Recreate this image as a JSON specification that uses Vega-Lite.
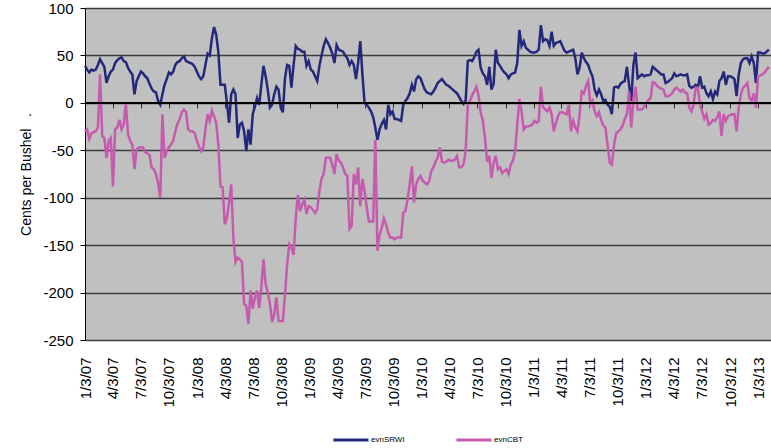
{
"$schema":"https://vega.github.io/schema/vega-lite/v6.json",
"width":686,"height":332,
"autosize":"none",
"padding":{"left":85,"top":8,"right":0,"bottom":108},
"background":"white",
"config":{"font":"Liberation Sans","view":{"fill":"#c0c0c0","stroke":null}},
"data":{"values":[
{"date":"2007-01-03","evnSRWI":39,"evnCBT":-30},{"date":"2007-01-10","evnSRWI":35,"evnCBT":-28},{"date":"2007-01-17","evnSRWI":32,"evnCBT":-38},{"date":"2007-01-24","evnSRWI":35,"evnCBT":-32},{"date":"2007-01-31","evnSRWI":34,"evnCBT":-31},{"date":"2007-02-07","evnSRWI":35,"evnCBT":-30},{"date":"2007-02-14","evnSRWI":40,"evnCBT":-26},{"date":"2007-02-21","evnSRWI":46,"evnCBT":30},{"date":"2007-02-28","evnSRWI":42,"evnCBT":-35},{"date":"2007-03-07","evnSRWI":38,"evnCBT":-37},
{"date":"2007-03-14","evnSRWI":21,"evnCBT":-58},{"date":"2007-03-21","evnSRWI":28,"evnCBT":-40},{"date":"2007-03-28","evnSRWI":33,"evnCBT":-37},{"date":"2007-04-04","evnSRWI":35,"evnCBT":-88},{"date":"2007-04-11","evnSRWI":42,"evnCBT":-28},{"date":"2007-04-18","evnSRWI":45,"evnCBT":-26},{"date":"2007-04-25","evnSRWI":47,"evnCBT":-18},{"date":"2007-05-02","evnSRWI":48,"evnCBT":-28},{"date":"2007-05-09","evnSRWI":44,"evnCBT":-23},{"date":"2007-05-16","evnSRWI":43,"evnCBT":0},
{"date":"2007-05-23","evnSRWI":37,"evnCBT":-33},{"date":"2007-05-30","evnSRWI":33,"evnCBT":-40},{"date":"2007-06-06","evnSRWI":30,"evnCBT":-44},{"date":"2007-06-13","evnSRWI":9,"evnCBT":-70},{"date":"2007-06-20","evnSRWI":23,"evnCBT":-49},{"date":"2007-06-27","evnSRWI":28,"evnCBT":-47},{"date":"2007-07-04","evnSRWI":33,"evnCBT":-47},{"date":"2007-07-11","evnSRWI":31,"evnCBT":-47},{"date":"2007-07-18","evnSRWI":28,"evnCBT":-52},{"date":"2007-07-25","evnSRWI":26,"evnCBT":-53},
{"date":"2007-08-01","evnSRWI":20,"evnCBT":-55},{"date":"2007-08-08","evnSRWI":15,"evnCBT":-68},{"date":"2007-08-15","evnSRWI":12,"evnCBT":-70},{"date":"2007-08-22","evnSRWI":11,"evnCBT":-75},{"date":"2007-08-29","evnSRWI":2,"evnCBT":-85},{"date":"2007-09-05","evnSRWI":-2,"evnCBT":-100},{"date":"2007-09-12","evnSRWI":9,"evnCBT":-12},{"date":"2007-09-19","evnSRWI":19,"evnCBT":-58},{"date":"2007-09-26","evnSRWI":25,"evnCBT":-51},{"date":"2007-10-03","evnSRWI":32,"evnCBT":-47},
{"date":"2007-10-10","evnSRWI":30,"evnCBT":-44},{"date":"2007-10-17","evnSRWI":33,"evnCBT":-40},{"date":"2007-10-24","evnSRWI":40,"evnCBT":-30},{"date":"2007-10-31","evnSRWI":43,"evnCBT":-22},{"date":"2007-11-07","evnSRWI":44,"evnCBT":-17},{"date":"2007-11-14","evnSRWI":47,"evnCBT":-10},{"date":"2007-11-21","evnSRWI":49,"evnCBT":-7},{"date":"2007-11-28","evnSRWI":44,"evnCBT":-10},{"date":"2007-12-05","evnSRWI":43,"evnCBT":-28},{"date":"2007-12-12","evnSRWI":42,"evnCBT":-30},
{"date":"2007-12-19","evnSRWI":41,"evnCBT":-30},{"date":"2007-12-26","evnSRWI":38,"evnCBT":-32},{"date":"2008-01-02","evnSRWI":33,"evnCBT":-40},{"date":"2008-01-09","evnSRWI":28,"evnCBT":-46},{"date":"2008-01-16","evnSRWI":25,"evnCBT":-51},{"date":"2008-01-23","evnSRWI":28,"evnCBT":-47},{"date":"2008-01-30","evnSRWI":40,"evnCBT":-28},{"date":"2008-02-06","evnSRWI":52,"evnCBT":-12},{"date":"2008-02-13","evnSRWI":50,"evnCBT":-19},{"date":"2008-02-20","evnSRWI":68,"evnCBT":-8},
{"date":"2008-02-27","evnSRWI":80,"evnCBT":-14},{"date":"2008-03-05","evnSRWI":72,"evnCBT":-21},{"date":"2008-03-12","evnSRWI":54,"evnCBT":-44},{"date":"2008-03-19","evnSRWI":19,"evnCBT":-88},{"date":"2008-03-26","evnSRWI":19,"evnCBT":-89},{"date":"2008-04-02","evnSRWI":19,"evnCBT":-128},{"date":"2008-04-09","evnSRWI":0,"evnCBT":-121},{"date":"2008-04-16","evnSRWI":-21,"evnCBT":-105},{"date":"2008-04-23","evnSRWI":9,"evnCBT":-86},{"date":"2008-04-30","evnSRWI":14,"evnCBT":-142},
{"date":"2008-05-07","evnSRWI":9,"evnCBT":-168},{"date":"2008-05-14","evnSRWI":-37,"evnCBT":-163},{"date":"2008-05-21","evnSRWI":-23,"evnCBT":-165},{"date":"2008-05-28","evnSRWI":-21,"evnCBT":-168},{"date":"2008-06-04","evnSRWI":-30,"evnCBT":-212},{"date":"2008-06-11","evnSRWI":-51,"evnCBT":-214},{"date":"2008-06-18","evnSRWI":-28,"evnCBT":-233},{"date":"2008-06-25","evnSRWI":-44,"evnCBT":-198},{"date":"2008-07-02","evnSRWI":-12,"evnCBT":-217},{"date":"2008-07-09","evnSRWI":-4,"evnCBT":-205},
{"date":"2008-07-16","evnSRWI":5,"evnCBT":-198},{"date":"2008-07-23","evnSRWI":-2,"evnCBT":-216},{"date":"2008-07-30","evnSRWI":19,"evnCBT":-195},{"date":"2008-08-06","evnSRWI":39,"evnCBT":-165},{"date":"2008-08-13","evnSRWI":28,"evnCBT":-191},{"date":"2008-08-20","evnSRWI":14,"evnCBT":-200},{"date":"2008-08-27","evnSRWI":-5,"evnCBT":-212},{"date":"2008-09-03","evnSRWI":-2,"evnCBT":-231},{"date":"2008-09-10","evnSRWI":9,"evnCBT":-223},{"date":"2008-09-17","evnSRWI":17,"evnCBT":-205},
{"date":"2008-09-24","evnSRWI":14,"evnCBT":-230},{"date":"2008-10-01","evnSRWI":-5,"evnCBT":-230},{"date":"2008-10-08","evnSRWI":-10,"evnCBT":-230},{"date":"2008-10-15","evnSRWI":26,"evnCBT":-202},{"date":"2008-10-22","evnSRWI":40,"evnCBT":-170},{"date":"2008-10-29","evnSRWI":39,"evnCBT":-149},{"date":"2008-11-05","evnSRWI":16,"evnCBT":-153},{"date":"2008-11-12","evnSRWI":40,"evnCBT":-160},{"date":"2008-11-19","evnSRWI":60,"evnCBT":-121},{"date":"2008-11-26","evnSRWI":57,"evnCBT":-97},
{"date":"2008-12-03","evnSRWI":56,"evnCBT":-114},{"date":"2008-12-10","evnSRWI":54,"evnCBT":-107},{"date":"2008-12-17","evnSRWI":54,"evnCBT":-102},{"date":"2008-12-24","evnSRWI":39,"evnCBT":-117},{"date":"2008-12-31","evnSRWI":44,"evnCBT":-109},{"date":"2009-01-07","evnSRWI":35,"evnCBT":-110},{"date":"2009-01-14","evnSRWI":33,"evnCBT":-113},{"date":"2009-01-21","evnSRWI":28,"evnCBT":-116},{"date":"2009-01-28","evnSRWI":23,"evnCBT":-112},{"date":"2009-02-04","evnSRWI":39,"evnCBT":-93},
{"date":"2009-02-11","evnSRWI":50,"evnCBT":-80},{"date":"2009-02-18","evnSRWI":60,"evnCBT":-75},{"date":"2009-02-25","evnSRWI":67,"evnCBT":-58},{"date":"2009-03-04","evnSRWI":63,"evnCBT":-58},{"date":"2009-03-11","evnSRWI":58,"evnCBT":-58},{"date":"2009-03-18","evnSRWI":52,"evnCBT":-65},{"date":"2009-03-25","evnSRWI":42,"evnCBT":-75},{"date":"2009-04-01","evnSRWI":61,"evnCBT":-54},{"date":"2009-04-08","evnSRWI":56,"evnCBT":-61},{"date":"2009-04-15","evnSRWI":55,"evnCBT":-63},
{"date":"2009-04-22","evnSRWI":54,"evnCBT":-68},{"date":"2009-04-29","evnSRWI":50,"evnCBT":-75},{"date":"2009-05-06","evnSRWI":47,"evnCBT":-77},{"date":"2009-05-13","evnSRWI":40,"evnCBT":-133},{"date":"2009-05-20","evnSRWI":44,"evnCBT":-130},{"date":"2009-05-27","evnSRWI":40,"evnCBT":-75},{"date":"2009-06-03","evnSRWI":25,"evnCBT":-86},{"date":"2009-06-10","evnSRWI":42,"evnCBT":-68},{"date":"2009-06-17","evnSRWI":65,"evnCBT":-109},{"date":"2009-06-24","evnSRWI":30,"evnCBT":-80},
{"date":"2009-07-01","evnSRWI":0,"evnCBT":-93},{"date":"2009-07-08","evnSRWI":-2,"evnCBT":-110},{"date":"2009-07-15","evnSRWI":-5,"evnCBT":-125},{"date":"2009-07-22","evnSRWI":-9,"evnCBT":-125},{"date":"2009-07-29","evnSRWI":-15,"evnCBT":-125},{"date":"2009-08-05","evnSRWI":-26,"evnCBT":-39},{"date":"2009-08-12","evnSRWI":-39,"evnCBT":-156},{"date":"2009-08-19","evnSRWI":-28,"evnCBT":-139},{"date":"2009-08-26","evnSRWI":-22,"evnCBT":-132},{"date":"2009-09-02","evnSRWI":-18,"evnCBT":-122},
{"date":"2009-09-09","evnSRWI":-28,"evnCBT":-128},{"date":"2009-09-16","evnSRWI":-2,"evnCBT":-137},{"date":"2009-09-23","evnSRWI":-12,"evnCBT":-142},{"date":"2009-09-30","evnSRWI":-9,"evnCBT":-142},{"date":"2009-10-07","evnSRWI":-17,"evnCBT":-144},{"date":"2009-10-14","evnSRWI":-17,"evnCBT":-142},{"date":"2009-10-21","evnSRWI":-18,"evnCBT":-142},{"date":"2009-10-28","evnSRWI":-19,"evnCBT":-142},{"date":"2009-11-04","evnSRWI":-2,"evnCBT":-116},{"date":"2009-11-11","evnSRWI":2,"evnCBT":-114},
{"date":"2009-11-18","evnSRWI":5,"evnCBT":-102},{"date":"2009-11-25","evnSRWI":10,"evnCBT":-86},{"date":"2009-12-02","evnSRWI":19,"evnCBT":-67},{"date":"2009-12-09","evnSRWI":12,"evnCBT":-105},{"date":"2009-12-16","evnSRWI":25,"evnCBT":-86},{"date":"2009-12-23","evnSRWI":28,"evnCBT":-80},{"date":"2009-12-30","evnSRWI":26,"evnCBT":-77},{"date":"2010-01-06","evnSRWI":20,"evnCBT":-82},{"date":"2010-01-13","evnSRWI":14,"evnCBT":-84},{"date":"2010-01-20","evnSRWI":11,"evnCBT":-86},
{"date":"2010-01-27","evnSRWI":10,"evnCBT":-83},{"date":"2010-02-03","evnSRWI":9,"evnCBT":-72},{"date":"2010-02-10","evnSRWI":12,"evnCBT":-68},{"date":"2010-02-17","evnSRWI":16,"evnCBT":-62},{"date":"2010-02-24","evnSRWI":21,"evnCBT":-58},{"date":"2010-03-03","evnSRWI":23,"evnCBT":-47},{"date":"2010-03-10","evnSRWI":25,"evnCBT":-62},{"date":"2010-03-17","evnSRWI":22,"evnCBT":-63},{"date":"2010-03-24","evnSRWI":19,"evnCBT":-62},{"date":"2010-03-31","evnSRWI":18,"evnCBT":-60},
{"date":"2010-04-07","evnSRWI":16,"evnCBT":-61},{"date":"2010-04-14","evnSRWI":14,"evnCBT":-61},{"date":"2010-04-21","evnSRWI":12,"evnCBT":-60},{"date":"2010-04-28","evnSRWI":10,"evnCBT":-56},{"date":"2010-05-05","evnSRWI":6,"evnCBT":-68},{"date":"2010-05-12","evnSRWI":2,"evnCBT":-68},{"date":"2010-05-19","evnSRWI":-1,"evnCBT":-65},{"date":"2010-05-26","evnSRWI":2,"evnCBT":-51},{"date":"2010-06-02","evnSRWI":44,"evnCBT":-2},{"date":"2010-06-09","evnSRWI":45,"evnCBT":2},
{"date":"2010-06-16","evnSRWI":44,"evnCBT":8},{"date":"2010-06-23","evnSRWI":48,"evnCBT":12},{"date":"2010-06-30","evnSRWI":54,"evnCBT":17},{"date":"2010-07-07","evnSRWI":56,"evnCBT":8},{"date":"2010-07-14","evnSRWI":37,"evnCBT":-10},{"date":"2010-07-21","evnSRWI":31,"evnCBT":-19},{"date":"2010-07-28","evnSRWI":28,"evnCBT":-37},{"date":"2010-08-04","evnSRWI":19,"evnCBT":-62},{"date":"2010-08-11","evnSRWI":38,"evnCBT":-56},{"date":"2010-08-18","evnSRWI":14,"evnCBT":-79},
{"date":"2010-08-25","evnSRWI":20,"evnCBT":-63},{"date":"2010-09-01","evnSRWI":56,"evnCBT":-56},{"date":"2010-09-08","evnSRWI":42,"evnCBT":-70},{"date":"2010-09-15","evnSRWI":39,"evnCBT":-68},{"date":"2010-09-22","evnSRWI":35,"evnCBT":-74},{"date":"2010-09-29","evnSRWI":32,"evnCBT":-72},{"date":"2010-10-06","evnSRWI":30,"evnCBT":-70},{"date":"2010-10-13","evnSRWI":26,"evnCBT":-75},{"date":"2010-10-20","evnSRWI":30,"evnCBT":-65},{"date":"2010-10-27","evnSRWI":31,"evnCBT":-61},
{"date":"2010-11-03","evnSRWI":32,"evnCBT":-51},{"date":"2010-11-10","evnSRWI":42,"evnCBT":-23},{"date":"2010-11-17","evnSRWI":77,"evnCBT":4},{"date":"2010-11-24","evnSRWI":60,"evnCBT":-9},{"date":"2010-12-01","evnSRWI":65,"evnCBT":-28},{"date":"2010-12-08","evnSRWI":58,"evnCBT":-25},{"date":"2010-12-15","evnSRWI":56,"evnCBT":-25},{"date":"2010-12-22","evnSRWI":54,"evnCBT":-24},{"date":"2010-12-29","evnSRWI":53,"evnCBT":-23},{"date":"2011-01-05","evnSRWI":53,"evnCBT":-19},
{"date":"2011-01-12","evnSRWI":54,"evnCBT":-21},{"date":"2011-01-19","evnSRWI":56,"evnCBT":-19},{"date":"2011-01-26","evnSRWI":82,"evnCBT":17},{"date":"2011-02-02","evnSRWI":65,"evnCBT":-4},{"date":"2011-02-09","evnSRWI":67,"evnCBT":-7},{"date":"2011-02-16","evnSRWI":66,"evnCBT":-9},{"date":"2011-02-23","evnSRWI":60,"evnCBT":-5},{"date":"2011-03-02","evnSRWI":75,"evnCBT":-12},{"date":"2011-03-09","evnSRWI":60,"evnCBT":-30},{"date":"2011-03-16","evnSRWI":63,"evnCBT":-21},
{"date":"2011-03-23","evnSRWI":64,"evnCBT":-14},{"date":"2011-03-30","evnSRWI":65,"evnCBT":-10},{"date":"2011-04-06","evnSRWI":60,"evnCBT":-10},{"date":"2011-04-13","evnSRWI":55,"evnCBT":-11},{"date":"2011-04-20","evnSRWI":53,"evnCBT":-12},{"date":"2011-04-27","evnSRWI":54,"evnCBT":-2},{"date":"2011-05-04","evnSRWI":55,"evnCBT":-30},{"date":"2011-05-11","evnSRWI":56,"evnCBT":-19},{"date":"2011-05-18","evnSRWI":47,"evnCBT":-26},{"date":"2011-05-25","evnSRWI":30,"evnCBT":-30},
{"date":"2011-06-01","evnSRWI":37,"evnCBT":-12},{"date":"2011-06-08","evnSRWI":53,"evnCBT":12},{"date":"2011-06-15","evnSRWI":47,"evnCBT":10},{"date":"2011-06-22","evnSRWI":43,"evnCBT":18},{"date":"2011-06-29","evnSRWI":40,"evnCBT":23},{"date":"2011-07-06","evnSRWI":33,"evnCBT":-2},{"date":"2011-07-13","evnSRWI":28,"evnCBT":2},{"date":"2011-07-20","evnSRWI":14,"evnCBT":-9},{"date":"2011-07-27","evnSRWI":8,"evnCBT":-14},{"date":"2011-08-03","evnSRWI":14,"evnCBT":-10},
{"date":"2011-08-10","evnSRWI":9,"evnCBT":-18},{"date":"2011-08-17","evnSRWI":2,"evnCBT":-24},{"date":"2011-08-24","evnSRWI":3,"evnCBT":-26},{"date":"2011-08-31","evnSRWI":-2,"evnCBT":-44},{"date":"2011-09-07","evnSRWI":-4,"evnCBT":-63},{"date":"2011-09-14","evnSRWI":-12,"evnCBT":-65},{"date":"2011-09-21","evnSRWI":16,"evnCBT":-44},{"date":"2011-09-28","evnSRWI":17,"evnCBT":-32},{"date":"2011-10-05","evnSRWI":16,"evnCBT":-30},{"date":"2011-10-12","evnSRWI":20,"evnCBT":-28},
{"date":"2011-10-19","evnSRWI":22,"evnCBT":-24},{"date":"2011-10-26","evnSRWI":23,"evnCBT":-17},{"date":"2011-11-02","evnSRWI":38,"evnCBT":-12},{"date":"2011-11-09","evnSRWI":19,"evnCBT":12},{"date":"2011-11-16","evnSRWI":2,"evnCBT":-26},{"date":"2011-11-23","evnSRWI":40,"evnCBT":2},{"date":"2011-11-30","evnSRWI":53,"evnCBT":17},{"date":"2011-12-07","evnSRWI":26,"evnCBT":-7},{"date":"2011-12-14","evnSRWI":28,"evnCBT":-7},{"date":"2011-12-21","evnSRWI":30,"evnCBT":-7},
{"date":"2011-12-28","evnSRWI":28,"evnCBT":-4},{"date":"2012-01-04","evnSRWI":29,"evnCBT":0},{"date":"2012-01-11","evnSRWI":29,"evnCBT":3},{"date":"2012-01-18","evnSRWI":30,"evnCBT":5},{"date":"2012-01-25","evnSRWI":38,"evnCBT":22},{"date":"2012-02-01","evnSRWI":36,"evnCBT":21},{"date":"2012-02-08","evnSRWI":34,"evnCBT":18},{"date":"2012-02-15","evnSRWI":32,"evnCBT":16},{"date":"2012-02-22","evnSRWI":30,"evnCBT":15},{"date":"2012-02-29","evnSRWI":30,"evnCBT":14},
{"date":"2012-03-07","evnSRWI":21,"evnCBT":7},{"date":"2012-03-14","evnSRWI":22,"evnCBT":7},{"date":"2012-03-21","evnSRWI":24,"evnCBT":8},{"date":"2012-03-28","evnSRWI":26,"evnCBT":10},{"date":"2012-04-04","evnSRWI":31,"evnCBT":14},{"date":"2012-04-11","evnSRWI":28,"evnCBT":16},{"date":"2012-04-18","evnSRWI":29,"evnCBT":14},{"date":"2012-04-25","evnSRWI":30,"evnCBT":12},{"date":"2012-05-02","evnSRWI":29,"evnCBT":14},{"date":"2012-05-09","evnSRWI":29,"evnCBT":11},
{"date":"2012-05-16","evnSRWI":30,"evnCBT":10},{"date":"2012-05-23","evnSRWI":18,"evnCBT":-5},{"date":"2012-05-30","evnSRWI":16,"evnCBT":-9},{"date":"2012-06-06","evnSRWI":17,"evnCBT":-2},{"date":"2012-06-13","evnSRWI":19,"evnCBT":16},{"date":"2012-06-20","evnSRWI":16,"evnCBT":16},{"date":"2012-06-27","evnSRWI":28,"evnCBT":-2},{"date":"2012-07-04","evnSRWI":16,"evnCBT":-9},{"date":"2012-07-11","evnSRWI":17,"evnCBT":-17},{"date":"2012-07-18","evnSRWI":10,"evnCBT":-12},
{"date":"2012-07-25","evnSRWI":7,"evnCBT":-23},{"date":"2012-08-01","evnSRWI":12,"evnCBT":-21},{"date":"2012-08-08","evnSRWI":4,"evnCBT":-18},{"date":"2012-08-15","evnSRWI":12,"evnCBT":-19},{"date":"2012-08-22","evnSRWI":9,"evnCBT":-15},{"date":"2012-08-29","evnSRWI":23,"evnCBT":-9},{"date":"2012-09-05","evnSRWI":26,"evnCBT":-35},{"date":"2012-09-12","evnSRWI":33,"evnCBT":-12},{"date":"2012-09-19","evnSRWI":19,"evnCBT":-19},{"date":"2012-09-26","evnSRWI":28,"evnCBT":-14},
{"date":"2012-10-03","evnSRWI":28,"evnCBT":-13},{"date":"2012-10-10","evnSRWI":27,"evnCBT":-12},{"date":"2012-10-17","evnSRWI":25,"evnCBT":-12},{"date":"2012-10-24","evnSRWI":7,"evnCBT":-30},{"date":"2012-10-31","evnSRWI":30,"evnCBT":-5},{"date":"2012-11-07","evnSRWI":42,"evnCBT":9},{"date":"2012-11-14","evnSRWI":46,"evnCBT":16},{"date":"2012-11-21","evnSRWI":47,"evnCBT":18},{"date":"2012-11-28","evnSRWI":47,"evnCBT":21},{"date":"2012-12-05","evnSRWI":42,"evnCBT":5},
{"date":"2012-12-12","evnSRWI":49,"evnCBT":2},{"date":"2012-12-19","evnSRWI":42,"evnCBT":10},{"date":"2012-12-26","evnSRWI":21,"evnCBT":-5},{"date":"2013-01-02","evnSRWI":53,"evnCBT":28},{"date":"2013-01-09","evnSRWI":53,"evnCBT":29},{"date":"2013-01-16","evnSRWI":52,"evnCBT":30},{"date":"2013-01-23","evnSRWI":52,"evnCBT":32},{"date":"2013-01-30","evnSRWI":54,"evnCBT":35},{"date":"2013-02-06","evnSRWI":56,"evnCBT":38}
]},
"resolve":{"axis":{"x":"independent"}},
"layer":[
{
"transform":[{"fold":["evnSRWI","evnCBT"],"as":["series","value"]}],
"mark":{"type":"line","strokeWidth":2.5,"interpolate":"linear"},
"encoding":{
"x":{"field":"date","type":"temporal",
"scale":{"type":"utc","domain":[{"year":2007,"month":1,"date":3,"utc":true},{"year":2013,"month":2,"date":13,"utc":true}]},
"axis":{"orient":"bottom","title":null,"format":"%-m/%-d/%y","labelAngle":-90,"labelFontSize":15,"labelColor":"black","labelPadding":17,"ticks":false,"domain":false,"grid":false,"labelOverlap":false,"labelBound":false,"labelFlush":false,
"values":[{"year":2007,"month":1,"date":3,"utc":true},{"year":2007,"month":4,"date":3,"utc":true},{"year":2007,"month":7,"date":3,"utc":true},{"year":2007,"month":10,"date":3,"utc":true},{"year":2008,"month":1,"date":3,"utc":true},{"year":2008,"month":4,"date":3,"utc":true},{"year":2008,"month":7,"date":3,"utc":true},{"year":2008,"month":10,"date":3,"utc":true},{"year":2009,"month":1,"date":3,"utc":true},{"year":2009,"month":4,"date":3,"utc":true},{"year":2009,"month":7,"date":3,"utc":true},{"year":2009,"month":10,"date":3,"utc":true},{"year":2010,"month":1,"date":3,"utc":true},{"year":2010,"month":4,"date":3,"utc":true},{"year":2010,"month":7,"date":3,"utc":true},{"year":2010,"month":10,"date":3,"utc":true},{"year":2011,"month":1,"date":3,"utc":true},{"year":2011,"month":4,"date":3,"utc":true},{"year":2011,"month":7,"date":3,"utc":true},{"year":2011,"month":10,"date":3,"utc":true},{"year":2012,"month":1,"date":3,"utc":true},{"year":2012,"month":4,"date":3,"utc":true},{"year":2012,"month":7,"date":3,"utc":true},{"year":2012,"month":10,"date":3,"utc":true},{"year":2013,"month":1,"date":3,"utc":true}]}},
"y":{"field":"value","type":"quantitative",
"scale":{"domain":[-250,100],"nice":false,"zero":false},
"axis":{"title":"Cents per Bushel\u00a0\u00a0\u00a0.","titleFontSize":14,"titleFontWeight":"normal","titleColor":"black","titleAngle":-90,"titleAlign":"center","titleBaseline":"middle","titleX":-59,"titleY":166,
"values":[100,50,0,-50,-100,-150,-200,-250],"labelExpr":"datum.value < 0 ? '-' + abs(datum.value) : '' + datum.value","labelFontSize":15,"labelColor":"black","labelPadding":7,"tickSize":5,"tickColor":"black","domain":true,"domainColor":"black","domainWidth":1,"grid":true,"gridColor":"#3c3c3c","gridWidth":1.3}},
"color":{"field":"series","type":"nominal",
"scale":{"domain":["evnSRWI","evnCBT"],"range":["#24287a","#c65aae"]},
"legend":{"title":null,"orient":"none","legendX":247,"legendY":413,"direction":"horizontal","symbolType":"stroke","symbolSize":1225,"symbolStrokeWidth":3,"labelFontSize":8,"labelColor":"black","labelOffset":1,"columnPadding":45,"padding":0}}
}
},
{
"mark":{"type":"rule","color":"black","strokeWidth":1},
"encoding":{
"x":{"datum":{"year":2007,"month":1,"date":3,"utc":true},"type":"temporal",
"scale":{"type":"utc","domain":[{"year":2007,"month":1,"date":3,"utc":true},{"year":2013,"month":2,"date":13,"utc":true}]},
"axis":{"orient":"bottom","offset":-237,"title":null,"labels":false,"ticks":true,"tickSize":5,"tickColor":"#333333","domain":false,"grid":false,
"values":[{"year":2007,"month":4,"date":3,"utc":true},{"year":2007,"month":7,"date":3,"utc":true},{"year":2007,"month":10,"date":3,"utc":true},{"year":2008,"month":1,"date":3,"utc":true},{"year":2008,"month":4,"date":3,"utc":true},{"year":2008,"month":7,"date":3,"utc":true},{"year":2008,"month":10,"date":3,"utc":true},{"year":2009,"month":1,"date":3,"utc":true},{"year":2009,"month":4,"date":3,"utc":true},{"year":2009,"month":7,"date":3,"utc":true},{"year":2009,"month":10,"date":3,"utc":true},{"year":2010,"month":1,"date":3,"utc":true},{"year":2010,"month":4,"date":3,"utc":true},{"year":2010,"month":7,"date":3,"utc":true},{"year":2010,"month":10,"date":3,"utc":true},{"year":2011,"month":1,"date":3,"utc":true},{"year":2011,"month":4,"date":3,"utc":true},{"year":2011,"month":7,"date":3,"utc":true},{"year":2011,"month":10,"date":3,"utc":true},{"year":2012,"month":1,"date":3,"utc":true},{"year":2012,"month":4,"date":3,"utc":true},{"year":2012,"month":7,"date":3,"utc":true},{"year":2012,"month":10,"date":3,"utc":true},{"year":2013,"month":1,"date":3,"utc":true}]}},
"x2":{"datum":{"year":2013,"month":2,"date":13,"utc":true}},
"y":{"datum":0,"type":"quantitative"}
}
}
]
}
